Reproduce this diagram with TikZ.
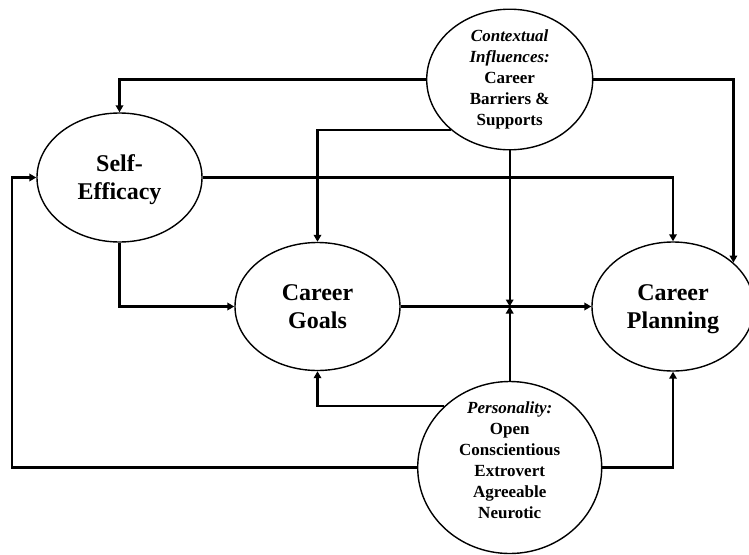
\documentclass[tikz,border=0pt]{standalone}
\usepackage{fontspec}
\setmainfont{Liberation Serif}
\usetikzlibrary{arrows.meta,shapes.geometric}
\newcommand{\nodepth}[1]{\raisebox{0pt}[\height][0pt]{#1}}
\begin{document}
\begin{tikzpicture}[x=1pt,y=-1pt,
  oval/.style={draw=black,line width=1.4pt,ellipse,inner sep=0pt},
  bigtxt/.style={align=center,font=\fontsize{24}{28}\selectfont\bfseries},
  smalltxt/.style={align=center,font=\fontsize{17}{21}\selectfont\bfseries},
  conn/.style={line width=2.4pt,-{Triangle[length=7pt,width=7.5pt]}}]
\useasboundingbox (0,0) rectangle (749,554);
\node[oval,minimum width=165pt,minimum height=129pt,bigtxt] (se) at (119.5,177.5) {Self-\\\nodepth{Efficacy}};
\node[oval,minimum width=166pt,minimum height=129pt,smalltxt] (ctx) at (509.7,79.5) {\textit{Contextual}\\\textit{Influences:}\\Career\\Barriers \&\\Supports};
\node[oval,minimum width=165pt,minimum height=128pt,bigtxt] (goals) at (317.5,306.5) {Career\\Goals};
\node[oval,minimum width=162pt,minimum height=129pt,bigtxt] (plan) at (673,306.5) {Career\\\nodepth{Planning}};
\node[oval,minimum width=184pt,minimum height=172pt] (pers) at (509.7,467.5) {};
\node[smalltxt] (perstxt) at (509.7,460) {\textit{Personality:}\\Open\\Conscientious\\Extrovert\\Agreeable\\Neurotic};
\coordinate (jn) at (ctx.south |- goals.east);
\coordinate (lft) at (12,300);
% connectors
\draw[conn] (ctx.west) -| (se.north);
\draw[conn] (ctx.south west) -| (goals.north);
\draw[conn] (ctx.south) -- (jn);
\draw[conn] (ctx.east) -| (plan.36.6);
\draw[conn] (se.east) -| (plan.north);
\draw[conn] (se.south) |- (goals.west);
\draw[conn] (goals.east) -- (plan.west);
\draw[conn] (pers.north) -- (jn);
\draw[conn] (pers.north west) -| (goals.south);
\draw[conn] (pers.west) -| (lft) |- (se.west);
\draw[conn] (pers.east) -| (plan.south);
\end{tikzpicture}
\end{document}
